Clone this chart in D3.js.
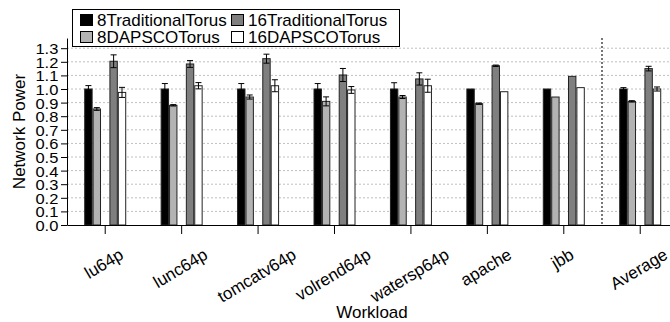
<!DOCTYPE html>
<html>
<head>
<meta charset="utf-8">
<script src="https://cdn.jsdelivr.net/npm/d3@7"></script>
<style>
  html, body { margin: 0; padding: 0; background: #fff; }
  svg { display: block; font-family: "Liberation Sans", Arial, Helvetica, sans-serif; }
</style>
</head>
<body>
<svg id="chart" width="670" height="322"></svg>
<script>
// Workloads along the x axis
const categories = ["lu64p", "lunc64p", "tomcatv64p", "volrend64p", "watersp64p", "apache", "jbb", "Average"];
const seriesNames = ["8TraditionalTorus", "8DAPSCOTorus", "16TraditionalTorus", "16DAPSCOTorus"];

// Normalised network power per workload, with error half-widths
const trad8      = [1.000, 1.000, 1.000, 1.000, 1.000, 1.000, 1.000, 1.000];
const trad8Err   = [0.025, 0.040, 0.040, 0.040, 0.046, 0.000, 0.000, 0.010];
const dapsco8    = [0.853, 0.880, 0.941, 0.909, 0.941, 0.892, 0.941, 0.909];
const dapsco8Err = [0.010, 0.005, 0.015, 0.033, 0.011, 0.005, 0.000, 0.005];
const trad16     = [1.204, 1.184, 1.223, 1.103, 1.074, 1.171, 1.093, 1.150];
const trad16Err  = [0.047, 0.025, 0.033, 0.048, 0.045, 0.005, 0.000, 0.017];
const dapsco16   = [0.975, 1.024, 1.024, 0.993, 1.024, 0.980, 1.010, 1.000];
const dapsco16Err= [0.037, 0.023, 0.044, 0.025, 0.048, 0.000, 0.000, 0.015];

const yTicks = [0.0, 0.1, 0.2, 0.3, 0.4, 0.5, 0.6, 0.7, 0.8, 0.9, 1.0, 1.1, 1.2, 1.3];

(function draw() {
  // Series table: slot within each group and fill
  const series = [
    { name: seriesNames[0], slot: "a", fill: "#000000", values: trad8,    err: trad8Err },
    { name: seriesNames[1], slot: "b", fill: "#b3b3b3", values: dapsco8,  err: dapsco8Err },
    { name: seriesNames[2], slot: "d", fill: "#7f7f7f", values: trad16,   err: trad16Err },
    { name: seriesNames[3], slot: "e", fill: "#ffffff", values: dapsco16, err: dapsco16Err }
  ];

  const svg = d3.select("#chart");
  const left = 67, bandW = 76.43, plotTop = 38, plotBottom = 225;
  const groupW = 42;

  const x = d3.scaleBand().domain(categories).range([left, left + bandW * categories.length]).padding(0);
  const y = d3.scaleLinear().domain([0, 1.375]).range([plotBottom, plotTop]);
  const inner = d3.scaleBand().domain(["a", "b", "c", "d", "e"]).range([0, groupW]).padding(0);
  const groupX = c => x(c) + x.bandwidth() / 2 - groupW / 2;

  // Horizontal dotted grid lines
  svg.append("g")
    .selectAll("line")
    .data(yTicks.filter(t => t > 0))
    .join("line")
    .attr("x1", left).attr("x2", 670)
    .attr("y1", d => y(d)).attr("y2", d => y(d))
    .attr("stroke", "#c0c0c0")
    .attr("stroke-width", 1)
    .attr("stroke-dasharray", "2,2");

  // Separator before the average group
  const sepX = x("Average");
  svg.append("line")
    .attr("x1", sepX).attr("x2", sepX)
    .attr("y1", plotTop).attr("y2", plotBottom)
    .attr("stroke", "#777")
    .attr("stroke-width", 2)
    .attr("stroke-dasharray", "2,2");

  // Bars
  const bars = svg.append("g");
  series.forEach(s => {
    bars.append("g")
      .selectAll("rect")
      .data(categories.map((c, i) => ({ c, v: s.values[i] })))
      .join("rect")
      .attr("x", d => groupX(d.c) + inner(s.slot) + 0.5)
      .attr("y", d => y(d.v))
      .attr("width", inner.bandwidth() - 1)
      .attr("height", d => y(0) - y(d.v))
      .attr("fill", s.fill)
      .attr("stroke", "#222")
      .attr("stroke-width", 1);
  });

  // Error bars
  const errs = svg.append("g").attr("stroke", "#000").attr("stroke-width", 1);
  series.forEach(s => {
    categories.forEach((c, i) => {
      const e = s.err[i];
      if (e <= 0) return;
      const cx = groupX(c) + inner(s.slot) + inner.bandwidth() / 2;
      const hi = y(s.values[i] + e), lo = y(s.values[i] - e);
      errs.append("line").attr("x1", cx).attr("x2", cx).attr("y1", hi).attr("y2", lo);
      errs.append("line").attr("x1", cx - 3).attr("x2", cx + 3).attr("y1", hi).attr("y2", hi);
      errs.append("line").attr("x1", cx - 3).attr("x2", cx + 3).attr("y1", lo).attr("y2", lo);
    });
  });

  // Y axis
  const yAxis = svg.append("g")
    .attr("transform", `translate(${left},0)`)
    .call(d3.axisLeft(y).tickValues(yTicks).tickFormat(d3.format(".1f")).tickSize(6).tickSizeOuter(0));
  yAxis.select(".domain").attr("stroke", "#000");
  yAxis.selectAll(".tick line").attr("stroke", "#000");
  yAxis.selectAll(".tick text")
    .attr("font-size", 15)
    .attr("fill", "#000")
    .attr("x", -7)
    .attr("dy", "0.36em")
    .attr("transform", "translate(-1,0) scale(1.1,1)");

  // X axis: rotated labels whose rotated extent is centred under the tick
  // and hangs from a common top edge
  const xAxis = svg.append("g")
    .attr("transform", `translate(0,${plotBottom})`)
    .call(d3.axisBottom(x).tickSize(9).tickSizeOuter(0));
  xAxis.select(".domain").attr("stroke", "#000");
  xAxis.selectAll(".tick line").attr("stroke", "#000");
  const angle = 31, rad = angle * Math.PI / 180, labelTop = 22, glyphH = 15;
  xAxis.selectAll(".tick text")
    .attr("font-size", 17)
    .attr("fill", "#000")
    .attr("text-anchor", "middle")
    .attr("x", 0)
    .attr("y", 0)
    .attr("dy", "0.3em")
    .attr("transform", function () {
      const w = this.getComputedTextLength();
      const h = w * Math.sin(rad) + glyphH * Math.cos(rad);
      return `translate(-1,${labelTop + h / 2}) rotate(${-angle})`;
    });

  // Axis titles
  svg.append("text")
    .attr("transform", `translate(25,${(plotTop + plotBottom) / 2}) rotate(-90)`)
    .attr("text-anchor", "middle")
    .attr("font-size", 17)
    .text("Network Power");

  svg.append("text")
    .attr("x", 372).attr("y", 318)
    .attr("text-anchor", "middle")
    .attr("font-size", 17)
    .text("Workload");

  // Legend
  const legend = svg.append("g");
  legend.append("rect")
    .attr("x", 72.5).attr("y", 9.5)
    .attr("width", 327).attr("height", 37)
    .attr("fill", "#fff").attr("stroke", "#000");
  const legendPos = [[80, 14], [80, 31], [231, 14], [231, 31]];
  series.forEach((s, i) => {
    const [lx, ly] = legendPos[i];
    legend.append("rect")
      .attr("x", lx + 0.5).attr("y", ly + 0.5)
      .attr("width", 12).attr("height", 11)
      .attr("fill", s.fill).attr("stroke", "#000");
    legend.append("text")
      .attr("x", lx + 17).attr("y", ly + 12)
      .attr("font-size", 17)
      .text(s.name);
  });
})();
</script>
</body>
</html>
